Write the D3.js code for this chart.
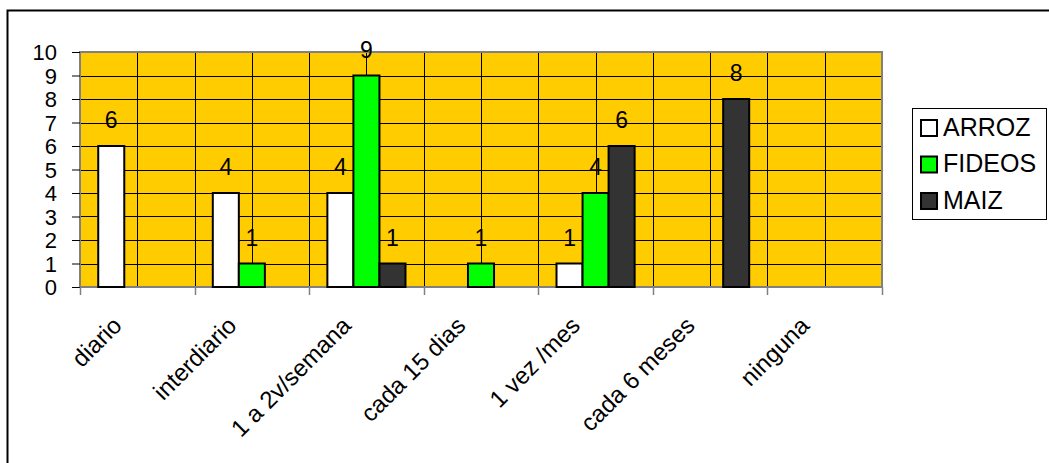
<!DOCTYPE html>
<meta charset="utf-8">
<head>
<style>
body { margin: 0; background: #fff; }
svg { font-family: "Liberation Sans", Arial, sans-serif; }
.grid line { stroke: #000; stroke-width: 1px; shape-rendering: crispEdges; }
.bar { stroke: #000; stroke-width: 2px; }
</style>
<script src="https://d3js.org/d3.v7.min.js"></script>
</head>
<body>
<div id="chart"></div>
<script>

// data
var categories = ["diario", "interdiario", "1 a 2v/semana", "cada 15 dias", "1 vez /mes", "cada 6 meses", "ninguna"];
var seriesNames = ["ARROZ", "FIDEOS", "MAIZ"];
var arroz  = [6, 4, 4, 0, 1, 0, 0];
var fideos = [0, 1, 9, 1, 4, 0, 0];
var maiz   = [0, 0, 1, 0, 6, 8, 0];
var yTicks = [0, 1, 2, 3, 4, 5, 6, 7, 8, 9, 10];
var colors = ["#ffffff", "#00ff00", "#333333"];

var W = 1049, H = 463;
var plot = {left: 80, right: 882, top: 52, bottom: 287};

var svg = d3.select("#chart").append("svg")
  .attr("width", W)
  .attr("height", H);

// outer chart border (runs off the right and bottom edges)
svg.append("rect")
  .attr("x", 7.5).attr("y", 10.5)
  .attr("width", 1100).attr("height", 500)
  .attr("fill", "#fff")
  .attr("stroke", "#000")
  .attr("stroke-width", 2);

var x = d3.scaleBand()
  .domain(categories)
  .range([plot.left, plot.right])
  .paddingInner(0).paddingOuter(0);

var x1 = d3.scaleBand()
  .domain(seriesNames)
  .range([0, x.bandwidth()])
  .paddingInner(0).paddingOuter(0.7);

var y = d3.scaleLinear()
  .domain([0, 10])
  .range([plot.bottom, plot.top]);

// plot background
svg.append("rect")
  .attr("x", plot.left).attr("y", plot.top)
  .attr("width", plot.right - plot.left)
  .attr("height", plot.bottom - plot.top)
  .attr("fill", "#ffcc00");

// gridlines: every value and every half category
var grid = svg.append("g").attr("class", "grid");
grid.selectAll(".h")
  .data(yTicks.slice(1))
  .enter().append("line")
    .attr("x1", plot.left).attr("x2", plot.right)
    .attr("y1", function(d) { return Math.round(y(d)) + 0.5; })
    .attr("y2", function(d) { return Math.round(y(d)) + 0.5; });

var halfLines = [];
categories.forEach(function(c, i) {
  if (i > 0) halfLines.push(x(c));
  halfLines.push(x(c) + x.bandwidth() / 2);
});
grid.selectAll(".v")
  .data(halfLines)
  .enter().append("line")
    .attr("x1", function(d) { return Math.round(d) + 0.5; })
    .attr("x2", function(d) { return Math.round(d) + 0.5; })
    .attr("y1", plot.top).attr("y2", plot.bottom);

// plot border
svg.append("rect")
  .attr("x", plot.left).attr("y", plot.top)
  .attr("width", plot.right - plot.left)
  .attr("height", plot.bottom - plot.top)
  .attr("fill", "none")
  .attr("stroke", "#808080")
  .attr("stroke-width", 2);

// y axis
var yAxis = svg.append("g")
  .attr("transform", "translate(" + plot.left + ",0)")
  .call(d3.axisLeft(y).tickValues(yTicks).tickSize(8).tickPadding(15));
yAxis.select(".domain").remove();
yAxis.selectAll("line").attr("stroke", "#000");
yAxis.selectAll("text")
  .attr("font-size", "22px")
  .attr("fill", "#000")
  .attr("dy", "0.36em");

// x axis ticks at category boundaries
var bounds = categories.map(function(c) { return x(c); }).concat([plot.right]);
svg.selectAll(".xtick")
  .data(bounds)
  .enter().append("line")
    .attr("x1", function(d) { return Math.round(d) + 0.5; })
    .attr("x2", function(d) { return Math.round(d) + 0.5; })
    .attr("y1", plot.bottom)
    .attr("y2", plot.bottom + 8)
    .attr("stroke", "#808080")
    .attr("stroke-width", 1.5);

// rotated category labels
svg.selectAll(".xlabel")
  .data(categories)
  .enter().append("text")
    .attr("transform", function(d) {
      return "translate(" + (x(d) + x.bandwidth() / 2 - 14) + ",327) rotate(-45)";
    })
    .attr("text-anchor", "end")
    .attr("font-size", "24px")
    .attr("fill", "#000")
    .text(function(d) { return d; });

// bars
var table = seriesNames.map(function(name, si) {
  var vals = [arroz, fideos, maiz][si];
  return categories.map(function(c, i) {
    return {series: name, cat: c, value: vals[i], color: colors[si]};
  }).filter(function(d) { return d.value > 0; });
});
var flat = d3.merge(table);

svg.selectAll(".bar")
  .data(flat)
  .enter().append("rect")
    .attr("class", "bar")
    .attr("x", function(d) { return x(d.cat) + x1(d.series); })
    .attr("y", function(d) { return y(d.value); })
    .attr("width", x1.bandwidth())
    .attr("height", function(d) { return y(0) - y(d.value); })
    .attr("fill", function(d) { return d.color; });

// value labels
svg.selectAll(".val")
  .data(flat)
  .enter().append("text")
    .attr("x", function(d) { return x(d.cat) + x1(d.series) + x1.bandwidth() / 2; })
    .attr("y", function(d) { return y(d.value) - 18; })
    .attr("text-anchor", "middle")
    .attr("font-size", "23px")
    .attr("fill", "#000")
    .text(function(d) { return d.value; });

// legend
var legend = svg.append("g");
legend.append("rect")
  .attr("x", 912.5).attr("y", 108.5)
  .attr("width", 134).attr("height", 111)
  .attr("fill", "#fff")
  .attr("stroke", "#000")
  .attr("stroke-width", 1);

var items = legend.selectAll(".item")
  .data(seriesNames)
  .enter().append("g")
    .attr("transform", function(d, i) { return "translate(921," + (120 + i * 36.5) + ")"; });
items.append("rect")
  .attr("width", 16).attr("height", 16)
  .attr("fill", function(d, i) { return colors[i]; })
  .attr("stroke", "#000")
  .attr("stroke-width", 2);
items.append("text")
  .attr("x", 22).attr("y", 15.5)
  .attr("font-size", "25px")
  .attr("fill", "#000")
  .text(function(d) { return d; });

</script>
</body>
</html>
